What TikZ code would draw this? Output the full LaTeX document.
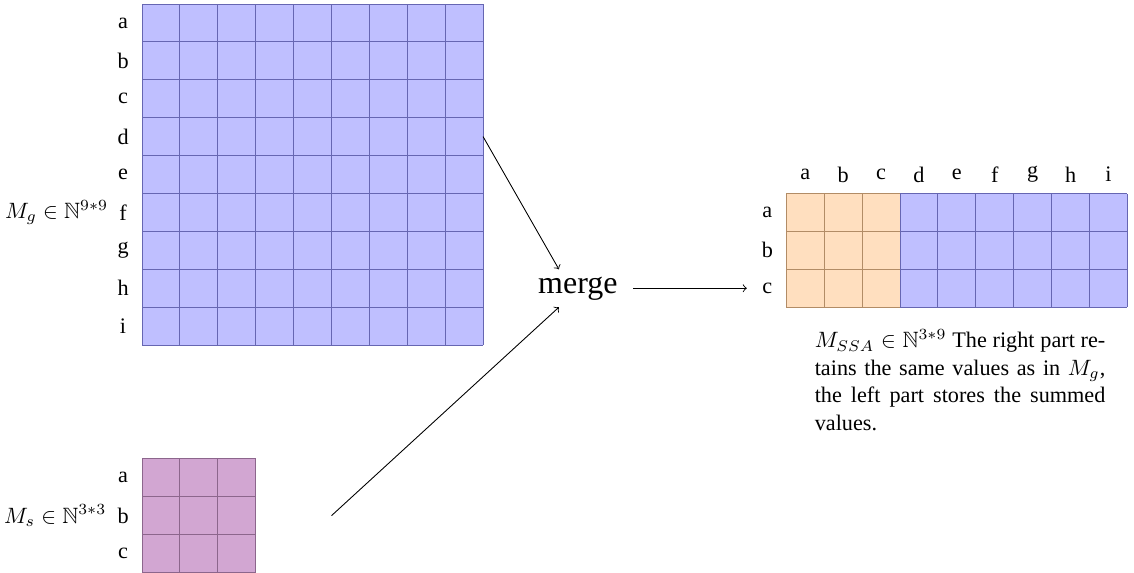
\documentclass[tikz,border=0pt]{standalone}
\usepackage{fontspec}
\setmainfont{Liberation Serif}
\usepackage{amsmath,amssymb}
\usetikzlibrary{positioning}

\begin{document}
\begin{tikzpicture}[x=0.6cm,y=0.6cm,node distance=0.6cm,
    gline/.style={draw=blue!50!black!60, step=0.6cm},
    sline/.style={draw=violet!50!black!60, step=0.6cm},
    oline/.style={draw=orange!50!black!60, step=0.6cm}]
			\useasboundingbox (-3.747,0.106) rectangle (26.174,-15.013);
			
			% Grids
			\fill[blue!25] (0,0) rectangle (9,-9);
			\draw[gline] (0,0) grid (9,-9);
			
			\fill[violet!35] (0,-12) rectangle (3,-15);
			\draw[sline] (0,-12) grid (3,-15);
			
			\fill[orange!25] (17,-5) rectangle (20,-8);
			\draw[oline] (17,-5) grid (20,-8);
			\fill[blue!25] (20,-5) rectangle (26,-8);
			\draw[gline] (20,-5) grid (26,-8);
			
			% Nodes
			\node (ga) at (-0.5,-0.5) {a};
			\node (gb) [below of=ga] {b};
			\node (gc) [below of=gb] {c};
			\node (gd) [below of=gc] {d};
			\node (ge) [below of=gd] {e};
			\node (gf) [below of=ge] {f};
			\node (gg) [below of=gf] {g};
			\node (gh) [below of=gg] {h};
			\node (gi) [below of=gh] {i};
			\node (Mg) [left=-2pt of gf] {$M_g \in \mathbb{N}^{9*9}$};
			
			\node (sa) at (-0.5,-12.5) {a};
			\node (sb) [below of=sa] {b};
			\node (sc) [below of=sb] {c};
			\node (Ms) [left=-2pt of sb] {$M_s \in \mathbb{N}^{3*3}$};
			
			\node (ra) at (16.5,-5.5) {a};
			\node (rb) [below of=ra] {b};
			\node (rc) [below of=rb] {c};
			
			\node (ca) at (17.5,-4.5) {a};
			\node (cb) [right of=ca] {b};
			\node (cc) [right of=cb] {c};
			\node (cd) [right of=cc] {d};
			\node (ce) [right of=cd] {e};
			\node (cf) [right of=ce] {f};
			\node (cg) [right of=cf] {g};
			\node (ch) [right of=cg] {h};
			\node (ci) [right of=ch] {i};
			
			\node (merge) at (11.5,-7.5) {\Large merge};
			
			\node (cap) [anchor=north west, text width=4.6cm, align=justify, inner sep=0pt,
			  font={\fontsize{10}{12.4}\selectfont}] at (17.74,-8.58)
			{$M_{SSA} \in \mathbb{N}^{3*9}$ The right part retains the same values as in $M_g$, the left part stores the summed values.};
			
			\coordinate (gout) at (9,-3.5);
			\coordinate (sout) at (5,-13.5);
			\coordinate (in1) at (11,-7);
			\coordinate (in2) at (11,-8);
			
			\draw[->] (gout) -- (in1);
			\draw[->] (sout) -- (in2);
			\draw[->, shorten <=3.5pt, shorten >=3.5pt] (merge) -- (rc);
			
		\end{tikzpicture}
\end{document}
